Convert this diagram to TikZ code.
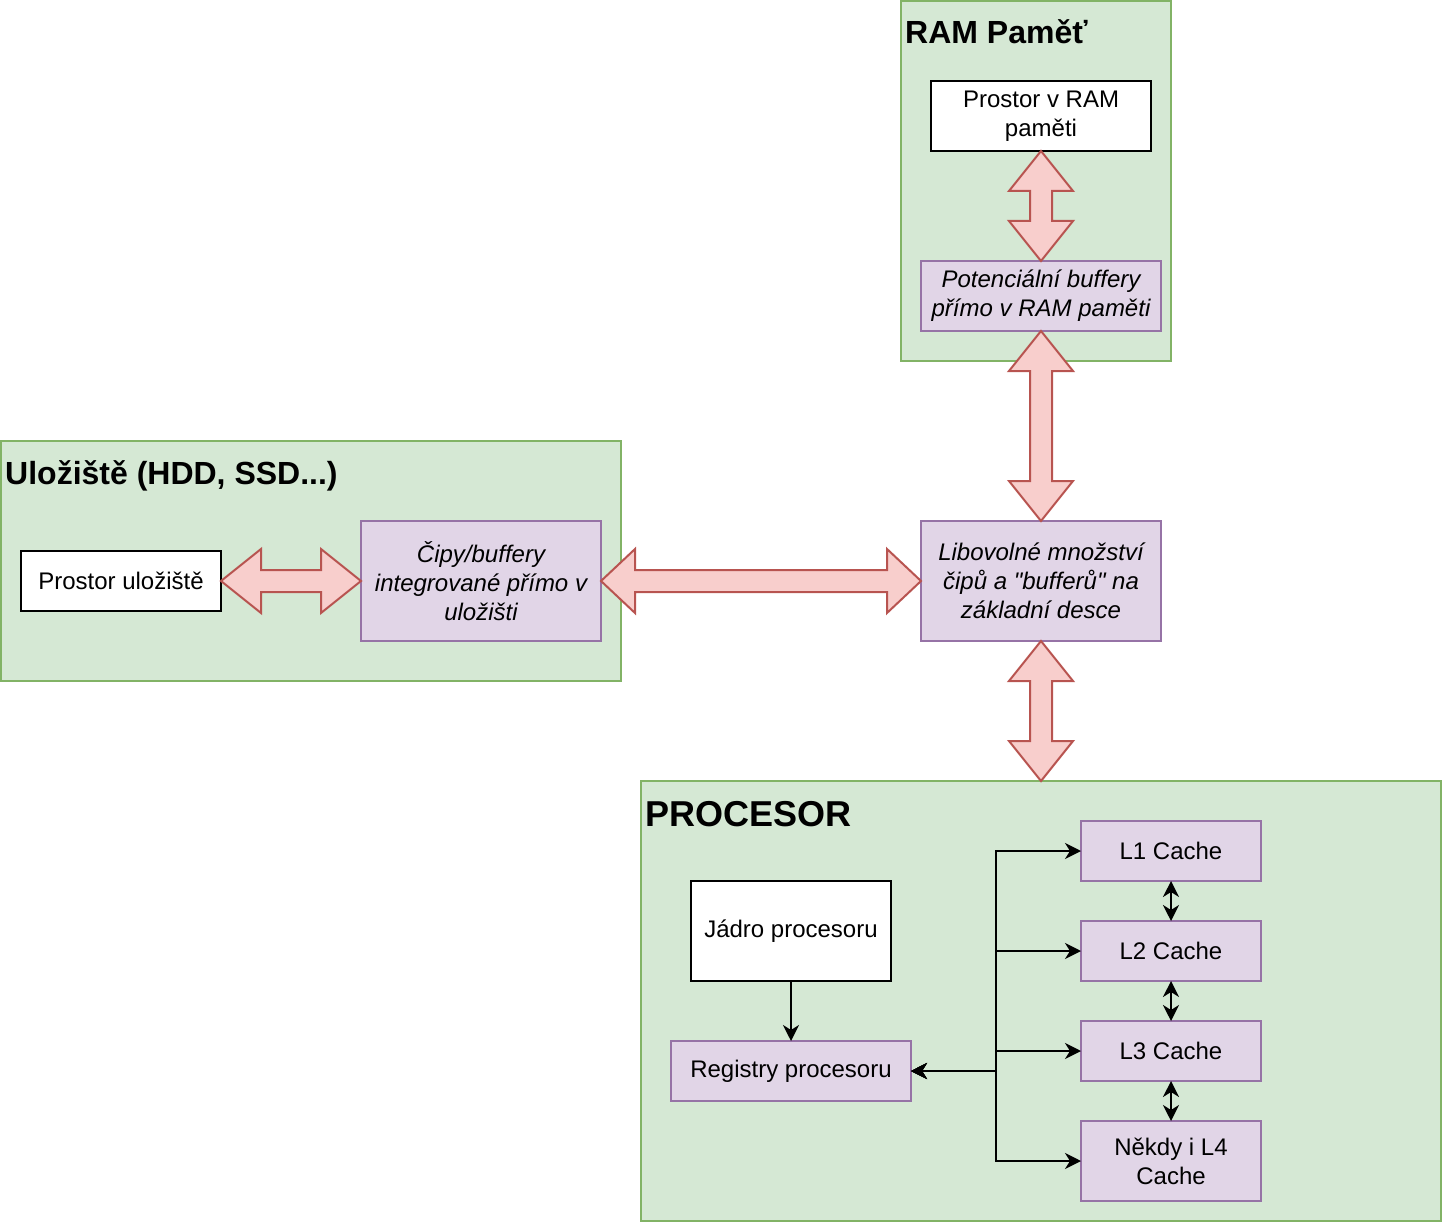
\documentclass[tikz,border=0pt]{standalone}
\usepackage{fontspec}
\setmainfont{Liberation Sans}[Ligatures=TeXOff]
\usetikzlibrary{arrows.meta,positioning,backgrounds,fit,calc}
\definecolor{grpfill}{HTML}{D5E8D4}
\definecolor{grpline}{HTML}{82B366}
\definecolor{buffill}{HTML}{E1D5E7}
\definecolor{bufline}{HTML}{9673A6}
\definecolor{fatfill}{HTML}{F8CECC}
\definecolor{fatline}{HTML}{B85450}
\newcommand\fatarrow[3][40]{%
  \draw[fat] let \p1=(#2), \p2=(#3),
      \n1={atan2(\y2-\y1,\x2-\x1)}, \n2={veclen(\x2-\x1,\y2-\y1)} in
    [shift={(\p1)}, rotate=\n1]
    (0pt,0pt) -- (#1pt,32pt) -- (#1pt,11pt) -- ({\n2*1pt-#1pt},11pt)
    -- ({\n2*1pt-#1pt},32pt) -- ({\n2*1pt},0pt) -- ({\n2*1pt-#1pt},-32pt)
    -- ({\n2*1pt-#1pt},-11pt) -- (#1pt,-11pt) -- (#1pt,-32pt) -- cycle;}

\begin{document}
\begin{tikzpicture}[node distance=40pt,
    >={Stealth[length=16pt,width=16pt,inset=5pt]},
    box/.style={draw, line width=2pt, inner sep=0pt, outer sep=0pt, align=center,
      font=\fontsize{24pt}{29pt}\selectfont},
    plain/.style={box, fill=white, minimum width=200pt, minimum height=60pt},
    buf/.style={box, draw=bufline, fill=buffill, minimum width=240pt, minimum height=120pt,
      font=\fontsize{24pt}{29pt}\selectfont\itshape},
    cache/.style={box, draw=bufline, fill=buffill, minimum width=180pt, minimum height=60pt},
    group/.style={draw=grpline, fill=grpfill, line width=2pt, inner sep=0pt, outer sep=0pt},
    grptitle/.style={anchor=base west, inner sep=0pt, font=\fontsize{32pt}{38pt}\selectfont\bfseries},
    fat/.style={draw=fatline, fill=fatfill, line width=2pt, line join=miter},
    flow/.style={line width=2pt, ->}]
  \useasboundingbox (0,0) rectangle (1442pt,-1222pt);

  % motherboard and RAM
  \node[buf] (desk) at (1041pt,-581pt) {Libovolné množství\\čipů a "bufferů" na\\základní desce};
  \node[buf, minimum height=70pt] (rambuf) [above=190pt of desk] {Potenciální buffery\\přímo v RAM paměti};
  \node[plain, minimum width=220pt, minimum height=70pt] (ramspace) [above=110pt of rambuf] {Prostor v RAM\\paměti};

  % storage
  \node[buf] (chips) [left=320pt of desk] {Čipy/buffery\\integrované přímo v\\uložišti};
  \node[plain] (storspace) [left=140pt of chips] {Prostor uložiště};

  % processor
  \node[cache] (l1) [below=180pt of desk, xshift=130pt] {L1 Cache};
  \node[cache] (l2) [below=of l1] {L2 Cache};
  \node[cache] (l3) [below=of l2] {L3 Cache};
  \node[cache, minimum height=80pt] (l4) [below=of l3] {Někdy i L4\\Cache};
  \node[cache, minimum width=240pt] (reg) [left=170pt of l3, yshift=-20pt] {Registry procesoru};
  \node[plain, minimum height=100pt] (core) [above=60pt of reg] {Jádro procesoru};

  \begin{pgfonlayer}{background}
    \node[group, fit={($(rambuf.south west)+(-20pt,-30pt)$) ($(rambuf.north east |- ramspace.north)+(10pt,80pt)$)}] (ramgrp) {};
    \node[group, fit={($(storspace.west |- chips.south)+(-20pt,-40pt)$) ($(chips.north east)+(20pt,80pt)$)}] (storgrp) {};
    \node[group, fit={($(reg.west |- l4.south)+(-30pt,-20pt)$) ($(l1.north east)+(180pt,40pt)$)}] (procgrp) {};
  \end{pgfonlayer}
  \node[grptitle] (ramtitle) at ([shift={(4pt,-43pt)}]ramgrp.north west) {RAM Paměť};
  \node[grptitle] (stortitle) at ([shift={(4pt,-43pt)}]storgrp.north west) {Uložiště (HDD, SSD...)};
  \node[grptitle, font=\fontsize{36pt}{43pt}\selectfont\bfseries] (proctitle) at ([shift={(4pt,-45pt)}]procgrp.north west) {PROCESOR};

  \fatarrow{ramspace.south}{rambuf.north}
  \fatarrow{rambuf.south}{desk.north}
  \fatarrow{storspace.east}{chips.west}
  \fatarrow[34]{chips.east}{desk.west}
  \fatarrow{desk.south}{desk.south |- procgrp.north}

  \coordinate (fork) at ([xshift=85pt]reg.east);
  \draw[flow] (core) -- (reg);
  \foreach \c in {l1,l2,l3,l4}
    \draw[flow, <->] (reg.east) -- (fork) |- (\c);
  \foreach \a/\b in {l1/l2,l2/l3,l3/l4}
    \draw[flow, <->] (\a) -- (\b);
\end{tikzpicture}
\end{document}
